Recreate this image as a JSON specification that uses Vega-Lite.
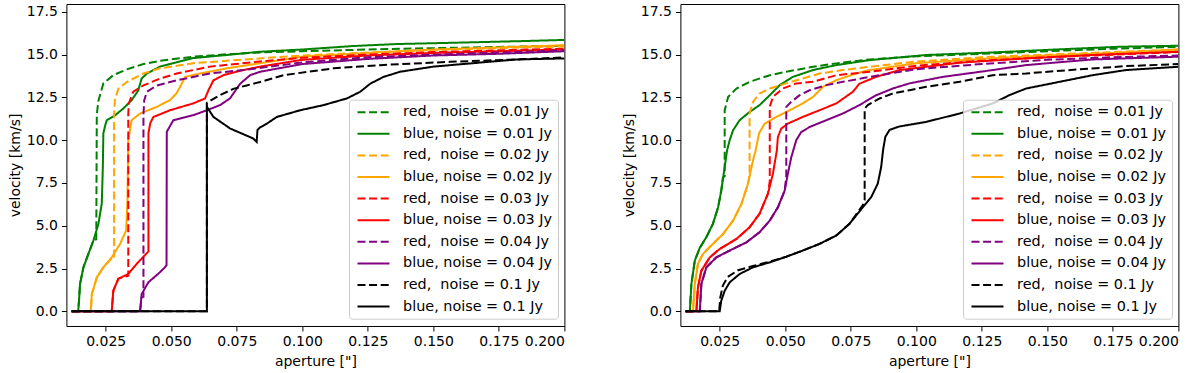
{
 "$schema": "https://vega.github.io/schema/vega-lite/v6.json",
 "padding": {"left": 7.4, "top": 3, "right": 15, "bottom": 0},
 "autosize": {"type": "pad"},
 "config": {
  "font": "DejaVu Sans",
  "view": {"stroke": "black", "strokeWidth": 1},
  "axis": {"grid": false, "domain": false, "tickColor": "black", "tickSize": 5, "labelFont": "DejaVu Sans", "labelFontSize": 14, "labelColor": "black", "titleFont": "DejaVu Sans", "titleFontSize": 14, "titleFontWeight": "normal", "titleColor": "black", "labelPadding": 4},
  "axisX": {"titlePadding": 6},
  "legend": {"title": null, "orient": "none", "legendX": 282.6, "legendY": 95.7, "symbolType": "M-1,0H7", "symbolSize": 64, "symbolStrokeWidth": 2, "labelFontSize": 14.4, "labelFont": "DejaVu Sans", "labelColor": "black", "labelLimit": 300, "padding": 5.3, "rowPadding": 6.6, "labelOffset": 34.4, "fillColor": "rgba(255,255,255,0.8)", "strokeColor": "#cccccc", "cornerRadius": 3}
 },
 "datasets": {
  "labels": [
   {"k": "r1", "label": "red,\u00a0 noise = 0.01 Jy"},
   {"k": "b1", "label": "blue, noise = 0.01 Jy"},
   {"k": "r2", "label": "red,\u00a0 noise = 0.02 Jy"},
   {"k": "b2", "label": "blue, noise = 0.02 Jy"},
   {"k": "r3", "label": "red,\u00a0 noise = 0.03 Jy"},
   {"k": "b3", "label": "blue, noise = 0.03 Jy"},
   {"k": "r4", "label": "red,\u00a0 noise = 0.04 Jy"},
   {"k": "b4", "label": "blue, noise = 0.04 Jy"},
   {"k": "r5", "label": "red,\u00a0 noise = 0.1 Jy"},
   {"k": "b5", "label": "blue, noise = 0.1 Jy"}
  ],
  "L": [
   {"k":"r1","x":0.012,"y":0},{"k":"r1","x":0.0145,"y":0},{"k":"r1","x":0.0148,"y":0.6},{"k":"r1","x":0.0152,"y":1.6},{"k":"r1","x":0.0165,"y":2.57},{"k":"r1","x":0.0184,"y":3.36},{"k":"r1","x":0.0203,"y":4.13},{"k":"r1","x":0.0214,"y":4.2},{"k":"r1","x":0.0215,"y":8.0},{"k":"r1","x":0.0216,"y":11.5},{"k":"r1","x":0.0222,"y":12.3},{"k":"r1","x":0.0241,"y":13.32},{"k":"r1","x":0.0279,"y":13.8},{"k":"r1","x":0.033,"y":14.14},{"k":"r1","x":0.0394,"y":14.45},{"k":"r1","x":0.0457,"y":14.64},{"k":"r1","x":0.0584,"y":14.88},{"k":"r1","x":0.0712,"y":15.02},{"k":"r1","x":0.0839,"y":15.13},{"k":"r1","x":0.1,"y":15.2},{"k":"r1","x":0.125,"y":15.3},{"k":"r1","x":0.15,"y":15.38},{"k":"r1","x":0.175,"y":15.45},{"k":"r1","x":0.2,"y":15.52},
   {"k":"b1","x":0.012,"y":0},{"k":"b1","x":0.0145,"y":0},{"k":"b1","x":0.0148,"y":0.6},{"k":"b1","x":0.0152,"y":1.6},{"k":"b1","x":0.0165,"y":2.57},{"k":"b1","x":0.0184,"y":3.36},{"k":"b1","x":0.0203,"y":4.13},{"k":"b1","x":0.0222,"y":5.1},{"k":"b1","x":0.0235,"y":6.3},{"k":"b1","x":0.0239,"y":8.4},{"k":"b1","x":0.0241,"y":10.4},{"k":"b1","x":0.0247,"y":10.8},{"k":"b1","x":0.0254,"y":11.17},{"k":"b1","x":0.0286,"y":11.46},{"k":"b1","x":0.0317,"y":11.85},{"k":"b1","x":0.0349,"y":12.34},{"k":"b1","x":0.0374,"y":12.9},{"k":"b1","x":0.0387,"y":13.6},{"k":"b1","x":0.0407,"y":13.9},{"k":"b1","x":0.0457,"y":14.3},{"k":"b1","x":0.0584,"y":14.8},{"k":"b1","x":0.0712,"y":14.98},{"k":"b1","x":0.0839,"y":15.17},{"k":"b1","x":0.1,"y":15.3},{"k":"b1","x":0.119,"y":15.5},{"k":"b1","x":0.136,"y":15.62},{"k":"b1","x":0.159,"y":15.7},{"k":"b1","x":0.186,"y":15.8},{"k":"b1","x":0.2,"y":15.86},
   {"k":"r2","x":0.012,"y":0},{"k":"r2","x":0.0193,"y":0},{"k":"r2","x":0.0197,"y":1.0},{"k":"r2","x":0.0216,"y":1.98},{"k":"r2","x":0.0241,"y":2.57},{"k":"r2","x":0.0273,"y":3.1},{"k":"r2","x":0.0282,"y":3.1},{"k":"r2","x":0.0282,"y":11.5},{"k":"r2","x":0.0285,"y":12.34},{"k":"r2","x":0.0298,"y":13.0},{"k":"r2","x":0.033,"y":13.4},{"k":"r2","x":0.0394,"y":13.9},{"k":"r2","x":0.0457,"y":14.2},{"k":"r2","x":0.0584,"y":14.5},{"k":"r2","x":0.0712,"y":14.64},{"k":"r2","x":0.0839,"y":14.78},{"k":"r2","x":0.1,"y":14.95},{"k":"r2","x":0.125,"y":15.12},{"k":"r2","x":0.15,"y":15.28},{"k":"r2","x":0.175,"y":15.38},{"k":"r2","x":0.2,"y":15.48},
   {"k":"b2","x":0.012,"y":0},{"k":"b2","x":0.0193,"y":0},{"k":"b2","x":0.0197,"y":1.0},{"k":"b2","x":0.0216,"y":1.98},{"k":"b2","x":0.0241,"y":2.57},{"k":"b2","x":0.0273,"y":3.15},{"k":"b2","x":0.0305,"y":3.95},{"k":"b2","x":0.0328,"y":4.72},{"k":"b2","x":0.0333,"y":6.48},{"k":"b2","x":0.0336,"y":10.0},{"k":"b2","x":0.0349,"y":11.17},{"k":"b2","x":0.0381,"y":11.56},{"k":"b2","x":0.0445,"y":11.95},{"k":"b2","x":0.0495,"y":12.34},{"k":"b2","x":0.052,"y":12.73},{"k":"b2","x":0.054,"y":13.3},{"k":"b2","x":0.0553,"y":13.7},{"k":"b2","x":0.061,"y":13.9},{"k":"b2","x":0.0712,"y":14.2},{"k":"b2","x":0.0839,"y":14.5},{"k":"b2","x":0.1,"y":14.88},{"k":"b2","x":0.125,"y":15.1},{"k":"b2","x":0.15,"y":15.3},{"k":"b2","x":0.175,"y":15.42},{"k":"b2","x":0.2,"y":15.55},
   {"k":"r3","x":0.012,"y":0},{"k":"r3","x":0.0273,"y":0},{"k":"r3","x":0.0279,"y":1.2},{"k":"r3","x":0.0298,"y":1.9},{"k":"r3","x":0.0336,"y":2.08},{"k":"r3","x":0.0336,"y":11.5},{"k":"r3","x":0.0338,"y":12.15},{"k":"r3","x":0.0355,"y":12.83},{"k":"r3","x":0.0394,"y":13.2},{"k":"r3","x":0.0457,"y":13.6},{"k":"r3","x":0.0521,"y":13.9},{"k":"r3","x":0.0648,"y":14.3},{"k":"r3","x":0.0839,"y":14.6},{"k":"r3","x":0.1,"y":14.82},{"k":"r3","x":0.125,"y":15.0},{"k":"r3","x":0.15,"y":15.15},{"k":"r3","x":0.175,"y":15.25},{"k":"r3","x":0.2,"y":15.35},
   {"k":"b3","x":0.012,"y":0},{"k":"b3","x":0.0273,"y":0},{"k":"b3","x":0.0279,"y":1.2},{"k":"b3","x":0.0298,"y":1.9},{"k":"b3","x":0.0336,"y":2.18},{"k":"b3","x":0.0368,"y":2.77},{"k":"b3","x":0.0407,"y":3.4},{"k":"b3","x":0.0413,"y":3.5},{"k":"b3","x":0.0413,"y":10.4},{"k":"b3","x":0.042,"y":11.0},{"k":"b3","x":0.0432,"y":11.36},{"k":"b3","x":0.0495,"y":11.75},{"k":"b3","x":0.0584,"y":12.15},{"k":"b3","x":0.0629,"y":12.44},{"k":"b3","x":0.0642,"y":12.92},{"k":"b3","x":0.0661,"y":13.5},{"k":"b3","x":0.0699,"y":13.8},{"k":"b3","x":0.0775,"y":14.1},{"k":"b3","x":0.0839,"y":14.3},{"k":"b3","x":0.1,"y":14.7},{"k":"b3","x":0.125,"y":14.95},{"k":"b3","x":0.15,"y":15.1},{"k":"b3","x":0.175,"y":15.2},{"k":"b3","x":0.2,"y":15.3},
   {"k":"r4","x":0.012,"y":0},{"k":"r4","x":0.0381,"y":0},{"k":"r4","x":0.0387,"y":0.81},{"k":"r4","x":0.0394,"y":0.85},{"k":"r4","x":0.0394,"y":11.5},{"k":"r4","x":0.0397,"y":12.34},{"k":"r4","x":0.0407,"y":12.83},{"k":"r4","x":0.0445,"y":13.2},{"k":"r4","x":0.0521,"y":13.5},{"k":"r4","x":0.0648,"y":13.9},{"k":"r4","x":0.0775,"y":14.1},{"k":"r4","x":0.1,"y":14.55},{"k":"r4","x":0.125,"y":14.85},{"k":"r4","x":0.15,"y":15.0},{"k":"r4","x":0.175,"y":15.12},{"k":"r4","x":0.2,"y":15.25},
   {"k":"b4","x":0.012,"y":0},{"k":"b4","x":0.0381,"y":0},{"k":"b4","x":0.0387,"y":1.0},{"k":"b4","x":0.0413,"y":1.7},{"k":"b4","x":0.0451,"y":2.2},{"k":"b4","x":0.0476,"y":2.57},{"k":"b4","x":0.0482,"y":2.7},{"k":"b4","x":0.0483,"y":10.49},{"k":"b4","x":0.0508,"y":11.17},{"k":"b4","x":0.0584,"y":11.46},{"k":"b4","x":0.0636,"y":11.75},{"k":"b4","x":0.0686,"y":12.05},{"k":"b4","x":0.0724,"y":12.44},{"k":"b4","x":0.0763,"y":13.3},{"k":"b4","x":0.0801,"y":13.8},{"k":"b4","x":0.0839,"y":14.0},{"k":"b4","x":0.1,"y":14.45},{"k":"b4","x":0.125,"y":14.75},{"k":"b4","x":0.15,"y":14.95},{"k":"b4","x":0.175,"y":15.05},{"k":"b4","x":0.2,"y":15.2},
   {"k":"r5","x":0.012,"y":0},{"k":"r5","x":0.0636,"y":0},{"k":"r5","x":0.0636,"y":12.2},{"k":"r5","x":0.0642,"y":12.24},{"k":"r5","x":0.0686,"y":12.63},{"k":"r5","x":0.0737,"y":13.0},{"k":"r5","x":0.0788,"y":13.2},{"k":"r5","x":0.0839,"y":13.4},{"k":"r5","x":0.0928,"y":13.8},{"k":"r5","x":0.1119,"y":14.2},{"k":"r5","x":0.131,"y":14.4},{"k":"r5","x":0.1564,"y":14.58},{"k":"r5","x":0.1819,"y":14.72},{"k":"r5","x":0.2,"y":14.84},
   {"k":"b5","x":0.012,"y":0},{"k":"b5","x":0.0636,"y":0},{"k":"b5","x":0.0636,"y":11.95},{"k":"b5","x":0.0661,"y":11.36},{"k":"b5","x":0.0725,"y":10.68},{"k":"b5","x":0.0813,"y":10.1},{"k":"b5","x":0.0826,"y":9.9},{"k":"b5","x":0.0829,"y":10.6},{"k":"b5","x":0.0839,"y":10.75},{"k":"b5","x":0.0865,"y":10.97},{"k":"b5","x":0.0903,"y":11.36},{"k":"b5","x":0.0992,"y":11.75},{"k":"b5","x":0.1081,"y":12.05},{"k":"b5","x":0.117,"y":12.44},{"k":"b5","x":0.1221,"y":12.83},{"k":"b5","x":0.1259,"y":13.3},{"k":"b5","x":0.131,"y":13.7},{"k":"b5","x":0.1373,"y":14.0},{"k":"b5","x":0.15,"y":14.3},{"k":"b5","x":0.1711,"y":14.58},{"k":"b5","x":0.1819,"y":14.72},{"k":"b5","x":0.2,"y":14.78}
  ],
  "R": [
   {"k":"r1","x":0.012,"y":0},{"k":"r1","x":0.0136,"y":0},{"k":"r1","x":0.0142,"y":1.6},{"k":"r1","x":0.0155,"y":2.96},{"k":"r1","x":0.0174,"y":3.71},{"k":"r1","x":0.0199,"y":4.33},{"k":"r1","x":0.0224,"y":5.11},{"k":"r1","x":0.0244,"y":6.08},{"k":"r1","x":0.0256,"y":7.06},{"k":"r1","x":0.0262,"y":7.8},{"k":"r1","x":0.0269,"y":7.9},{"k":"r1","x":0.0269,"y":11.75},{"k":"r1","x":0.0282,"y":12.53},{"k":"r1","x":0.0314,"y":13.02},{"k":"r1","x":0.0364,"y":13.41},{"k":"r1","x":0.0441,"y":13.8},{"k":"r1","x":0.0504,"y":14.0},{"k":"r1","x":0.0606,"y":14.29},{"k":"r1","x":0.0695,"y":14.49},{"k":"r1","x":0.0822,"y":14.72},{"k":"r1","x":0.1,"y":14.9},{"k":"r1","x":0.125,"y":15.05},{"k":"r1","x":0.15,"y":15.2},{"k":"r1","x":0.175,"y":15.35},{"k":"r1","x":0.2,"y":15.45},
   {"k":"b1","x":0.012,"y":0},{"k":"b1","x":0.0136,"y":0},{"k":"b1","x":0.0142,"y":1.6},{"k":"b1","x":0.0155,"y":2.96},{"k":"b1","x":0.0174,"y":3.71},{"k":"b1","x":0.0199,"y":4.33},{"k":"b1","x":0.0224,"y":5.11},{"k":"b1","x":0.0244,"y":6.08},{"k":"b1","x":0.0256,"y":7.06},{"k":"b1","x":0.0269,"y":8.43},{"k":"b1","x":0.0278,"y":9.4},{"k":"b1","x":0.0288,"y":10.0},{"k":"b1","x":0.0301,"y":10.58},{"k":"b1","x":0.0326,"y":11.17},{"k":"b1","x":0.0364,"y":11.65},{"k":"b1","x":0.0402,"y":12.05},{"k":"b1","x":0.0441,"y":12.63},{"k":"b1","x":0.0479,"y":13.22},{"k":"b1","x":0.0529,"y":13.7},{"k":"b1","x":0.0606,"y":14.1},{"k":"b1","x":0.0695,"y":14.39},{"k":"b1","x":0.0822,"y":14.68},{"k":"b1","x":0.1038,"y":14.98},{"k":"b1","x":0.1292,"y":15.13},{"k":"b1","x":0.1546,"y":15.31},{"k":"b1","x":0.1774,"y":15.46},{"k":"b1","x":0.2,"y":15.52},
   {"k":"r2","x":0.012,"y":0},{"k":"r2","x":0.0148,"y":0},{"k":"r2","x":0.0155,"y":1.6},{"k":"r2","x":0.0167,"y":2.77},{"k":"r2","x":0.0186,"y":3.35},{"k":"r2","x":0.0224,"y":3.94},{"k":"r2","x":0.0263,"y":4.52},{"k":"r2","x":0.0301,"y":5.3},{"k":"r2","x":0.0333,"y":6.28},{"k":"r2","x":0.0358,"y":7.46},{"k":"r2","x":0.0364,"y":8.0},{"k":"r2","x":0.0364,"y":11.56},{"k":"r2","x":0.0377,"y":12.24},{"k":"r2","x":0.0402,"y":12.73},{"k":"r2","x":0.0441,"y":13.02},{"k":"r2","x":0.0504,"y":13.32},{"k":"r2","x":0.0567,"y":13.61},{"k":"r2","x":0.0631,"y":13.9},{"k":"r2","x":0.072,"y":14.1},{"k":"r2","x":0.0822,"y":14.29},{"k":"r2","x":0.1,"y":14.6},{"k":"r2","x":0.125,"y":14.85},{"k":"r2","x":0.15,"y":15.0},{"k":"r2","x":0.175,"y":15.15},{"k":"r2","x":0.2,"y":15.3},
   {"k":"b2","x":0.012,"y":0},{"k":"b2","x":0.0148,"y":0},{"k":"b2","x":0.0155,"y":1.6},{"k":"b2","x":0.0167,"y":2.77},{"k":"b2","x":0.0186,"y":3.35},{"k":"b2","x":0.0224,"y":3.94},{"k":"b2","x":0.0263,"y":4.52},{"k":"b2","x":0.0301,"y":5.3},{"k":"b2","x":0.0333,"y":6.28},{"k":"b2","x":0.0358,"y":7.46},{"k":"b2","x":0.0377,"y":8.82},{"k":"b2","x":0.0387,"y":9.4},{"k":"b2","x":0.04,"y":10.4},{"k":"b2","x":0.0421,"y":10.96},{"k":"b2","x":0.0466,"y":11.36},{"k":"b2","x":0.0517,"y":11.75},{"k":"b2","x":0.0567,"y":12.15},{"k":"b2","x":0.0606,"y":12.53},{"k":"b2","x":0.0644,"y":13.12},{"k":"b2","x":0.0695,"y":13.51},{"k":"b2","x":0.0771,"y":13.9},{"k":"b2","x":0.0822,"y":14.1},{"k":"b2","x":0.1,"y":14.5},{"k":"b2","x":0.125,"y":14.75},{"k":"b2","x":0.15,"y":14.95},{"k":"b2","x":0.175,"y":15.1},{"k":"b2","x":0.2,"y":15.3},
   {"k":"r3","x":0.012,"y":0},{"k":"r3","x":0.0161,"y":0},{"k":"r3","x":0.0167,"y":1.4},{"k":"r3","x":0.018,"y":2.37},{"k":"r3","x":0.0212,"y":3.15},{"k":"r3","x":0.025,"y":3.64},{"k":"r3","x":0.0314,"y":4.23},{"k":"r3","x":0.0364,"y":4.91},{"k":"r3","x":0.0402,"y":5.7},{"k":"r3","x":0.0434,"y":6.87},{"k":"r3","x":0.0441,"y":7.6},{"k":"r3","x":0.0441,"y":11.95},{"k":"r3","x":0.0453,"y":12.53},{"k":"r3","x":0.0491,"y":13.02},{"k":"r3","x":0.0542,"y":13.32},{"k":"r3","x":0.0606,"y":13.41},{"k":"r3","x":0.0695,"y":13.8},{"k":"r3","x":0.0822,"y":14.0},{"k":"r3","x":0.1,"y":14.35},{"k":"r3","x":0.125,"y":14.65},{"k":"r3","x":0.15,"y":14.85},{"k":"r3","x":0.175,"y":15.0},{"k":"r3","x":0.2,"y":15.15},
   {"k":"b3","x":0.012,"y":0},{"k":"b3","x":0.0161,"y":0},{"k":"b3","x":0.0167,"y":1.4},{"k":"b3","x":0.018,"y":2.37},{"k":"b3","x":0.0212,"y":3.15},{"k":"b3","x":0.025,"y":3.64},{"k":"b3","x":0.0314,"y":4.23},{"k":"b3","x":0.0364,"y":4.91},{"k":"b3","x":0.0402,"y":5.7},{"k":"b3","x":0.0434,"y":6.87},{"k":"b3","x":0.0453,"y":8.04},{"k":"b3","x":0.0468,"y":9.4},{"k":"b3","x":0.0472,"y":10.19},{"k":"b3","x":0.0485,"y":10.68},{"k":"b3","x":0.051,"y":10.97},{"k":"b3","x":0.0567,"y":11.36},{"k":"b3","x":0.0631,"y":11.75},{"k":"b3","x":0.0695,"y":12.15},{"k":"b3","x":0.0758,"y":12.83},{"k":"b3","x":0.0783,"y":13.3},{"k":"b3","x":0.0847,"y":13.7},{"k":"b3","x":0.0936,"y":14.1},{"k":"b3","x":0.1038,"y":14.29},{"k":"b3","x":0.1165,"y":14.53},{"k":"b3","x":0.1419,"y":14.78},{"k":"b3","x":0.1673,"y":14.98},{"k":"b3","x":0.2,"y":15.17},
   {"k":"r4","x":0.012,"y":0},{"k":"r4","x":0.0174,"y":0},{"k":"r4","x":0.018,"y":1.6},{"k":"r4","x":0.0199,"y":2.57},{"k":"r4","x":0.0237,"y":3.15},{"k":"r4","x":0.0288,"y":3.55},{"k":"r4","x":0.0352,"y":4.03},{"k":"r4","x":0.0402,"y":4.62},{"k":"r4","x":0.0441,"y":5.3},{"k":"r4","x":0.0472,"y":6.08},{"k":"r4","x":0.0498,"y":7.06},{"k":"r4","x":0.0504,"y":7.9},{"k":"r4","x":0.0504,"y":11.95},{"k":"r4","x":0.0523,"y":12.24},{"k":"r4","x":0.0555,"y":12.63},{"k":"r4","x":0.0593,"y":12.92},{"k":"r4","x":0.0657,"y":13.22},{"k":"r4","x":0.072,"y":13.41},{"k":"r4","x":0.0822,"y":13.7},{"k":"r4","x":0.1,"y":14.15},{"k":"r4","x":0.125,"y":14.45},{"k":"r4","x":0.15,"y":14.7},{"k":"r4","x":0.175,"y":14.85},{"k":"r4","x":0.2,"y":14.95},
   {"k":"b4","x":0.012,"y":0},{"k":"b4","x":0.0174,"y":0},{"k":"b4","x":0.018,"y":1.6},{"k":"b4","x":0.0199,"y":2.57},{"k":"b4","x":0.0237,"y":3.15},{"k":"b4","x":0.0288,"y":3.55},{"k":"b4","x":0.0352,"y":4.03},{"k":"b4","x":0.0402,"y":4.62},{"k":"b4","x":0.0441,"y":5.3},{"k":"b4","x":0.0472,"y":6.08},{"k":"b4","x":0.0498,"y":7.06},{"k":"b4","x":0.051,"y":8.04},{"k":"b4","x":0.0523,"y":9.0},{"k":"b4","x":0.0542,"y":10.0},{"k":"b4","x":0.0561,"y":10.48},{"k":"b4","x":0.0593,"y":10.77},{"k":"b4","x":0.0657,"y":11.17},{"k":"b4","x":0.072,"y":11.56},{"k":"b4","x":0.0783,"y":12.05},{"k":"b4","x":0.0847,"y":12.63},{"k":"b4","x":0.091,"y":13.02},{"k":"b4","x":0.0974,"y":13.32},{"k":"b4","x":0.1101,"y":13.7},{"k":"b4","x":0.1292,"y":14.1},{"k":"b4","x":0.1419,"y":14.39},{"k":"b4","x":0.1673,"y":14.72},{"k":"b4","x":0.2,"y":14.88},
   {"k":"r5","x":0.012,"y":0},{"k":"r5","x":0.0248,"y":0},{"k":"r5","x":0.0252,"y":0.8},{"k":"r5","x":0.0262,"y":1.5},{"k":"r5","x":0.028,"y":2.0},{"k":"r5","x":0.032,"y":2.4},{"k":"r5","x":0.0377,"y":2.65},{"k":"r5","x":0.0441,"y":2.9},{"k":"r5","x":0.0504,"y":3.19},{"k":"r5","x":0.0567,"y":3.55},{"k":"r5","x":0.0631,"y":3.94},{"k":"r5","x":0.0695,"y":4.43},{"k":"r5","x":0.0745,"y":5.11},{"k":"r5","x":0.0796,"y":6.2},{"k":"r5","x":0.0803,"y":6.5},{"k":"r5","x":0.0803,"y":11.85},{"k":"r5","x":0.0815,"y":12.05},{"k":"r5","x":0.086,"y":12.44},{"k":"r5","x":0.091,"y":12.73},{"k":"r5","x":0.0974,"y":12.92},{"k":"r5","x":0.1038,"y":13.12},{"k":"r5","x":0.1165,"y":13.41},{"k":"r5","x":0.1292,"y":13.8},{"k":"r5","x":0.1419,"y":13.9},{"k":"r5","x":0.161,"y":14.13},{"k":"r5","x":0.18,"y":14.33},{"k":"r5","x":0.2,"y":14.45},
   {"k":"b5","x":0.012,"y":0},{"k":"b5","x":0.025,"y":0},{"k":"b5","x":0.0256,"y":0.62},{"k":"b5","x":0.0269,"y":1.2},{"k":"b5","x":0.0288,"y":1.69},{"k":"b5","x":0.0326,"y":2.18},{"k":"b5","x":0.0377,"y":2.57},{"k":"b5","x":0.0441,"y":2.86},{"k":"b5","x":0.0504,"y":3.19},{"k":"b5","x":0.0567,"y":3.55},{"k":"b5","x":0.0631,"y":3.94},{"k":"b5","x":0.0695,"y":4.43},{"k":"b5","x":0.0745,"y":5.11},{"k":"b5","x":0.0796,"y":6.08},{"k":"b5","x":0.0828,"y":6.67},{"k":"b5","x":0.0853,"y":7.46},{"k":"b5","x":0.0866,"y":8.43},{"k":"b5","x":0.0874,"y":9.5},{"k":"b5","x":0.0882,"y":10.2},{"k":"b5","x":0.0898,"y":10.6},{"k":"b5","x":0.0935,"y":10.8},{"k":"b5","x":0.1038,"y":11.07},{"k":"b5","x":0.1165,"y":11.56},{"k":"b5","x":0.1292,"y":12.15},{"k":"b5","x":0.1355,"y":12.63},{"k":"b5","x":0.1419,"y":13.02},{"k":"b5","x":0.1546,"y":13.41},{"k":"b5","x":0.1673,"y":13.8},{"k":"b5","x":0.18,"y":14.1},{"k":"b5","x":0.2,"y":14.29}
  ]
 },
 "resolve": {"scale": {"color": "independent", "strokeDash": "independent"}},
 "spacing": 56,
 "hconcat": [
  {
   "width": 498, "height": 322,
   "data": {"name": "L"},
   "transform": [{"lookup": "k", "from": {"data": {"name": "labels"}, "key": "k", "fields": ["label"]}}],
   "mark": {"type": "line", "strokeWidth": 2, "clip": true},
   "encoding": {
    "x": {"field": "x", "type": "quantitative", "scale": {"domain": [0.01, 0.2], "nice": false, "zero": false}, "axis": {"values": [0.025, 0.05, 0.075, 0.1, 0.125, 0.15, 0.175, 0.2], "format": ".3f", "title": "aperture [\"]"}},
    "y": {"field": "y", "type": "quantitative", "scale": {"domain": [-0.86, 17.96], "nice": false, "zero": false}, "axis": {"values": [0, 2.5, 5, 7.5, 10, 12.5, 15, 17.5], "format": ".1f", "title": "velocity [km/s]"}},
    "color": {"field": "label", "type": "nominal", "scale": {"domain": ["red,\u00a0 noise = 0.01 Jy", "blue, noise = 0.01 Jy", "red,\u00a0 noise = 0.02 Jy", "blue, noise = 0.02 Jy", "red,\u00a0 noise = 0.03 Jy", "blue, noise = 0.03 Jy", "red,\u00a0 noise = 0.04 Jy", "blue, noise = 0.04 Jy", "red,\u00a0 noise = 0.1 Jy", "blue, noise = 0.1 Jy"], "range": ["#008000", "#008000", "#ffa500", "#ffa500", "#ff0000", "#ff0000", "#800080", "#800080", "#000000", "#000000"]}, "legend": {"title": null}},
    "strokeDash": {"field": "label", "type": "nominal", "scale": {"domain": ["red,\u00a0 noise = 0.01 Jy", "blue, noise = 0.01 Jy", "red,\u00a0 noise = 0.02 Jy", "blue, noise = 0.02 Jy", "red,\u00a0 noise = 0.03 Jy", "blue, noise = 0.03 Jy", "red,\u00a0 noise = 0.04 Jy", "blue, noise = 0.04 Jy", "red,\u00a0 noise = 0.1 Jy", "blue, noise = 0.1 Jy"], "range": [[8, 3.6], [1, 0], [8, 3.6], [1, 0], [8, 3.6], [1, 0], [8, 3.6], [1, 0], [8, 3.6], [1, 0]]}, "legend": {"title": null}},
    "order": {"value": null}
   }
  },
  {
   "width": 498, "height": 322,
   "data": {"name": "R"},
   "transform": [{"lookup": "k", "from": {"data": {"name": "labels"}, "key": "k", "fields": ["label"]}}],
   "mark": {"type": "line", "strokeWidth": 2, "clip": true},
   "encoding": {
    "x": {"field": "x", "type": "quantitative", "scale": {"domain": [0.01, 0.2], "nice": false, "zero": false}, "axis": {"values": [0.025, 0.05, 0.075, 0.1, 0.125, 0.15, 0.175, 0.2], "format": ".3f", "title": "aperture [\"]"}},
    "y": {"field": "y", "type": "quantitative", "scale": {"domain": [-0.86, 17.96], "nice": false, "zero": false}, "axis": {"values": [0, 2.5, 5, 7.5, 10, 12.5, 15, 17.5], "format": ".1f", "title": "velocity [km/s]"}},
    "color": {"field": "label", "type": "nominal", "scale": {"domain": ["red,\u00a0 noise = 0.01 Jy", "blue, noise = 0.01 Jy", "red,\u00a0 noise = 0.02 Jy", "blue, noise = 0.02 Jy", "red,\u00a0 noise = 0.03 Jy", "blue, noise = 0.03 Jy", "red,\u00a0 noise = 0.04 Jy", "blue, noise = 0.04 Jy", "red,\u00a0 noise = 0.1 Jy", "blue, noise = 0.1 Jy"], "range": ["#008000", "#008000", "#ffa500", "#ffa500", "#ff0000", "#ff0000", "#800080", "#800080", "#000000", "#000000"]}, "legend": {"title": null}},
    "strokeDash": {"field": "label", "type": "nominal", "scale": {"domain": ["red,\u00a0 noise = 0.01 Jy", "blue, noise = 0.01 Jy", "red,\u00a0 noise = 0.02 Jy", "blue, noise = 0.02 Jy", "red,\u00a0 noise = 0.03 Jy", "blue, noise = 0.03 Jy", "red,\u00a0 noise = 0.04 Jy", "blue, noise = 0.04 Jy", "red,\u00a0 noise = 0.1 Jy", "blue, noise = 0.1 Jy"], "range": [[8, 3.6], [1, 0], [8, 3.6], [1, 0], [8, 3.6], [1, 0], [8, 3.6], [1, 0], [8, 3.6], [1, 0]]}, "legend": {"title": null}},
    "order": {"value": null}
   }
  }
 ]
}
